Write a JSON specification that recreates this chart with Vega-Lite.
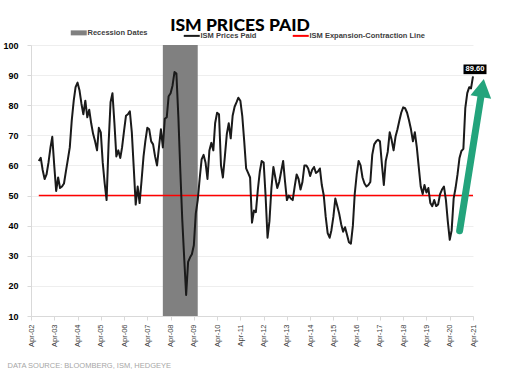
{
  "$schema": "https://vega.github.io/schema/vega-lite/v6.json",
  "width": 442,
  "height": 271,
  "autosize": {"type": "none"},
  "padding": {"left": 31, "top": 45, "right": 39, "bottom": 56},
  "background": "white",
  "title": {"text": "ISM PRICES PAID", "font": "Lato", "fontWeight": 900, "fontSize": 17.5, "color": "#000000", "anchor": "middle", "frame": "group", "dx": -12, "offset": -5},
  "config": {
    "view": {"stroke": null},
    "axis": {"domainColor": "#d9d9d9", "tickColor": "#d9d9d9", "gridColor": "#eeeeee", "tickSize": 4},
    "axisY": {"tickCount": 10, "grid": true, "labelFont": "Liberation Sans", "labelFontSize": 9, "labelFontWeight": "bold", "labelColor": "#000000", "labelPadding": 9, "labelOverlap": false},
    "legend": {"labelFont": "Liberation Sans", "labelFontSize": 7.5, "labelColor": "#404040", "labelFontWeight": "bold"}
  },
  "datasets": {
    "ism": [
      {"date": "2002-08-01", "v": 61.5}, {"date": "2002-09-01", "v": 62.5}, {"date": "2002-10-01", "v": 58.5}, {"date": "2002-11-01", "v": 55.5}, {"date": "2002-12-01", "v": 57},
      {"date": "2003-01-01", "v": 61}, {"date": "2003-02-01", "v": 66}, {"date": "2003-03-01", "v": 69.5}, {"date": "2003-04-01", "v": 60}, {"date": "2003-05-01", "v": 51.5}, {"date": "2003-06-01", "v": 56}, {"date": "2003-07-01", "v": 52.5}, {"date": "2003-08-01", "v": 53}, {"date": "2003-09-01", "v": 54}, {"date": "2003-10-01", "v": 58}, {"date": "2003-11-01", "v": 62}, {"date": "2003-12-01", "v": 66},
      {"date": "2004-01-01", "v": 75}, {"date": "2004-02-01", "v": 81.5}, {"date": "2004-03-01", "v": 86}, {"date": "2004-04-01", "v": 87.5}, {"date": "2004-05-01", "v": 85}, {"date": "2004-06-01", "v": 80.5}, {"date": "2004-07-01", "v": 77}, {"date": "2004-08-01", "v": 81.5}, {"date": "2004-09-01", "v": 76}, {"date": "2004-10-01", "v": 78.5}, {"date": "2004-11-01", "v": 74}, {"date": "2004-12-01", "v": 70.5},
      {"date": "2005-01-01", "v": 68}, {"date": "2005-02-01", "v": 65}, {"date": "2005-03-01", "v": 72.5}, {"date": "2005-04-01", "v": 71}, {"date": "2005-05-01", "v": 61}, {"date": "2005-06-01", "v": 54}, {"date": "2005-07-01", "v": 48.5}, {"date": "2005-08-01", "v": 67}, {"date": "2005-09-01", "v": 81}, {"date": "2005-10-01", "v": 84}, {"date": "2005-11-01", "v": 74}, {"date": "2005-12-01", "v": 63},
      {"date": "2006-01-01", "v": 65}, {"date": "2006-02-01", "v": 62.5}, {"date": "2006-03-01", "v": 66}, {"date": "2006-04-01", "v": 71.5}, {"date": "2006-05-01", "v": 76.5}, {"date": "2006-06-01", "v": 77}, {"date": "2006-07-01", "v": 78}, {"date": "2006-08-01", "v": 71}, {"date": "2006-09-01", "v": 59}, {"date": "2006-10-01", "v": 47}, {"date": "2006-11-01", "v": 53}, {"date": "2006-12-01", "v": 47.5},
      {"date": "2007-01-01", "v": 55}, {"date": "2007-02-01", "v": 63}, {"date": "2007-03-01", "v": 68}, {"date": "2007-04-01", "v": 72.5}, {"date": "2007-05-01", "v": 72}, {"date": "2007-06-01", "v": 68}, {"date": "2007-07-01", "v": 67}, {"date": "2007-08-01", "v": 63}, {"date": "2007-09-01", "v": 60}, {"date": "2007-10-01", "v": 66}, {"date": "2007-11-01", "v": 72}, {"date": "2007-12-01", "v": 66},
      {"date": "2008-01-01", "v": 75.5}, {"date": "2008-02-01", "v": 76}, {"date": "2008-03-01", "v": 83}, {"date": "2008-04-01", "v": 84}, {"date": "2008-05-01", "v": 86.5}, {"date": "2008-06-01", "v": 91}, {"date": "2008-07-01", "v": 90.5}, {"date": "2008-08-01", "v": 76}, {"date": "2008-09-01", "v": 58}, {"date": "2008-10-01", "v": 42}, {"date": "2008-11-01", "v": 29}, {"date": "2008-12-01", "v": 17},
      {"date": "2009-01-01", "v": 28}, {"date": "2009-02-01", "v": 29.5}, {"date": "2009-03-01", "v": 30.5}, {"date": "2009-04-01", "v": 33.5}, {"date": "2009-05-01", "v": 44}, {"date": "2009-06-01", "v": 48.5}, {"date": "2009-07-01", "v": 55.5}, {"date": "2009-08-01", "v": 62}, {"date": "2009-09-01", "v": 63.5}, {"date": "2009-10-01", "v": 61}, {"date": "2009-11-01", "v": 55.5}, {"date": "2009-12-01", "v": 65},
      {"date": "2010-01-01", "v": 67.5}, {"date": "2010-02-01", "v": 65}, {"date": "2010-03-01", "v": 74}, {"date": "2010-04-01", "v": 77.5}, {"date": "2010-05-01", "v": 77}, {"date": "2010-06-01", "v": 60}, {"date": "2010-07-01", "v": 56}, {"date": "2010-08-01", "v": 63}, {"date": "2010-09-01", "v": 70.5}, {"date": "2010-10-01", "v": 74}, {"date": "2010-11-01", "v": 69}, {"date": "2010-12-01", "v": 76.5},
      {"date": "2011-01-01", "v": 79.5}, {"date": "2011-02-01", "v": 81}, {"date": "2011-03-01", "v": 82.5}, {"date": "2011-04-01", "v": 81.5}, {"date": "2011-05-01", "v": 76.5}, {"date": "2011-06-01", "v": 68}, {"date": "2011-07-01", "v": 59}, {"date": "2011-08-01", "v": 57.5}, {"date": "2011-09-01", "v": 56}, {"date": "2011-10-01", "v": 41}, {"date": "2011-11-01", "v": 45}, {"date": "2011-12-01", "v": 44.5},
      {"date": "2012-01-01", "v": 52}, {"date": "2012-02-01", "v": 58}, {"date": "2012-03-01", "v": 61.5}, {"date": "2012-04-01", "v": 61}, {"date": "2012-05-01", "v": 50}, {"date": "2012-06-01", "v": 36}, {"date": "2012-07-01", "v": 41.5}, {"date": "2012-08-01", "v": 52.5}, {"date": "2012-09-01", "v": 59.5}, {"date": "2012-10-01", "v": 56}, {"date": "2012-11-01", "v": 52.5}, {"date": "2012-12-01", "v": 54.5},
      {"date": "2013-01-01", "v": 58}, {"date": "2013-02-01", "v": 61.5}, {"date": "2013-03-01", "v": 55}, {"date": "2013-04-01", "v": 48.5}, {"date": "2013-05-01", "v": 50}, {"date": "2013-06-01", "v": 49}, {"date": "2013-07-01", "v": 48.5}, {"date": "2013-08-01", "v": 53}, {"date": "2013-09-01", "v": 57}, {"date": "2013-10-01", "v": 55.5}, {"date": "2013-11-01", "v": 52}, {"date": "2013-12-01", "v": 54.5},
      {"date": "2014-01-01", "v": 60}, {"date": "2014-02-01", "v": 60}, {"date": "2014-03-01", "v": 59}, {"date": "2014-04-01", "v": 56.5}, {"date": "2014-05-01", "v": 58.5}, {"date": "2014-06-01", "v": 59.5}, {"date": "2014-07-01", "v": 57.5}, {"date": "2014-08-01", "v": 58}, {"date": "2014-09-01", "v": 59}, {"date": "2014-10-01", "v": 53.5}, {"date": "2014-11-01", "v": 50}, {"date": "2014-12-01", "v": 43},
      {"date": "2015-01-01", "v": 37.5}, {"date": "2015-02-01", "v": 36}, {"date": "2015-03-01", "v": 38.5}, {"date": "2015-04-01", "v": 43}, {"date": "2015-05-01", "v": 49}, {"date": "2015-06-01", "v": 46.5}, {"date": "2015-07-01", "v": 44}, {"date": "2015-08-01", "v": 40.5}, {"date": "2015-09-01", "v": 38}, {"date": "2015-10-01", "v": 39.5}, {"date": "2015-11-01", "v": 37}, {"date": "2015-12-01", "v": 34.5},
      {"date": "2016-01-01", "v": 34}, {"date": "2016-02-01", "v": 40}, {"date": "2016-03-01", "v": 50.5}, {"date": "2016-04-01", "v": 57}, {"date": "2016-05-01", "v": 61.5}, {"date": "2016-06-01", "v": 60}, {"date": "2016-07-01", "v": 56}, {"date": "2016-08-01", "v": 54}, {"date": "2016-09-01", "v": 53}, {"date": "2016-10-01", "v": 53.5}, {"date": "2016-11-01", "v": 54.5}, {"date": "2016-12-01", "v": 63.5},
      {"date": "2017-01-01", "v": 67}, {"date": "2017-02-01", "v": 68}, {"date": "2017-03-01", "v": 68.5}, {"date": "2017-04-01", "v": 68}, {"date": "2017-05-01", "v": 60.5}, {"date": "2017-06-01", "v": 53.5}, {"date": "2017-07-01", "v": 61.5}, {"date": "2017-08-01", "v": 64.5}, {"date": "2017-09-01", "v": 71}, {"date": "2017-10-01", "v": 68.5}, {"date": "2017-11-01", "v": 65}, {"date": "2017-12-01", "v": 69.5},
      {"date": "2018-01-01", "v": 72}, {"date": "2018-02-01", "v": 75}, {"date": "2018-03-01", "v": 77.5}, {"date": "2018-04-01", "v": 79.3}, {"date": "2018-05-01", "v": 79}, {"date": "2018-06-01", "v": 77.5}, {"date": "2018-07-01", "v": 75}, {"date": "2018-08-01", "v": 72}, {"date": "2018-09-01", "v": 68}, {"date": "2018-10-01", "v": 71}, {"date": "2018-11-01", "v": 66}, {"date": "2018-12-01", "v": 59.5},
      {"date": "2019-01-01", "v": 53}, {"date": "2019-02-01", "v": 50.5}, {"date": "2019-03-01", "v": 53.5}, {"date": "2019-04-01", "v": 51}, {"date": "2019-05-01", "v": 52.5}, {"date": "2019-06-01", "v": 47.5}, {"date": "2019-07-01", "v": 46.5}, {"date": "2019-08-01", "v": 48.5}, {"date": "2019-09-01", "v": 46.5}, {"date": "2019-10-01", "v": 47}, {"date": "2019-11-01", "v": 50.5}, {"date": "2019-12-01", "v": 52},
      {"date": "2020-01-01", "v": 53}, {"date": "2020-02-01", "v": 48.5}, {"date": "2020-03-01", "v": 41.5}, {"date": "2020-04-01", "v": 35.3}, {"date": "2020-05-01", "v": 38.5}, {"date": "2020-06-01", "v": 49}, {"date": "2020-07-01", "v": 52.5}, {"date": "2020-08-01", "v": 57}, {"date": "2020-09-01", "v": 62.5}, {"date": "2020-10-01", "v": 64.8}, {"date": "2020-11-01", "v": 65.5}, {"date": "2020-12-01", "v": 79},
      {"date": "2021-01-01", "v": 84}, {"date": "2021-02-01", "v": 86}, {"date": "2021-03-01", "v": 85.6}, {"date": "2021-04-01", "v": 89.6}
    ],
    "recession": [{"date": "2007-12-01", "date2": "2009-06-01"}],
    "redline": [{"date": "2002-08-01", "v": 50}, {"date": "2021-04-01", "v": 50}],
    "arrow": [{"date": "2020-09-03", "v": 38.3}, {"date": "2021-08-25", "v": 85.7}],
    "arrowhead": [{"date": "2021-08-25", "v": 85.7}],
    "label": [{"date": "2021-04-01", "v": 89.6, "text": "89.60"}]
  },
  "encoding": {
    "x": {
      "field": "date", "type": "temporal",
      "scale": {"domain": [{"year": 2002, "month": 4, "date": 1}, {"year": 2021, "month": 4, "date": 1}]},
      "axis": {
        "values": [
          {"year": 2002, "month": 4, "date": 1}, {"year": 2003, "month": 4, "date": 1}, {"year": 2004, "month": 4, "date": 1}, {"year": 2005, "month": 4, "date": 1}, {"year": 2006, "month": 4, "date": 1},
          {"year": 2007, "month": 4, "date": 1}, {"year": 2008, "month": 4, "date": 1}, {"year": 2009, "month": 4, "date": 1}, {"year": 2010, "month": 4, "date": 1}, {"year": 2011, "month": 4, "date": 1},
          {"year": 2012, "month": 4, "date": 1}, {"year": 2013, "month": 4, "date": 1}, {"year": 2014, "month": 4, "date": 1}, {"year": 2015, "month": 4, "date": 1}, {"year": 2016, "month": 4, "date": 1},
          {"year": 2017, "month": 4, "date": 1}, {"year": 2018, "month": 4, "date": 1}, {"year": 2019, "month": 4, "date": 1}, {"year": 2020, "month": 4, "date": 1}, {"year": 2021, "month": 4, "date": 1}
        ],
        "format": "%b-%y", "labelAngle": -90, "labelFont": "Liberation Sans", "labelFontSize": 7.5, "labelColor": "#404040", "labelPadding": 4, "grid": false,
        "labelOverlap": false, "labelBound": false, "labelFlush": false,
        "title": "DATA SOURCE: BLOOMBERG, ISM, HEDGEYE", "titleFont": "Liberation Sans", "titleFontSize": 7.5, "titleFontWeight": "normal", "titleColor": "#a6a6a6",
        "titleAnchor": "start", "titleAlign": "left", "titleBaseline": "alphabetic", "titleX": -24, "titleY": 51
      }
    }
  },
  "layer": [
    {
      "data": {"name": "recession"},
      "mark": {"type": "rect", "opacity": 1},
      "encoding": {
        "x2": {"field": "date2"},
        "color": {"datum": "Recession Dates", "type": "nominal"}
      }
    },
    {
      "data": {"name": "redline"},
      "mark": {"type": "line", "strokeWidth": 1.5},
      "encoding": {
        "y": {"field": "v", "type": "quantitative", "title": null, "scale": {"domain": [10, 100], "nice": false, "zero": false}},
        "color": {"datum": "ISM Expansion-Contraction Line", "type": "nominal"}
      }
    },
    {
      "data": {"name": "ism"},
      "mark": {"type": "line", "strokeWidth": 2, "strokeJoin": "round"},
      "encoding": {
        "y": {"field": "v", "type": "quantitative", "title": null, "scale": {"domain": [10, 100], "nice": false, "zero": false}},
        "color": {
          "datum": "ISM Prices Paid", "type": "nominal",
          "scale": {"domain": ["Recession Dates", "ISM Prices Paid", "ISM Expansion-Contraction Line"], "range": ["#808080", "#1a1a1a", "#ff0000"]},
          "legend": {
            "title": null, "orient": "none", "direction": "horizontal", "legendX": 44, "legendY": -16,
            "symbolType": "stroke", "symbolSize": 256, "labelOffset": 5, "columnPadding": 31,
            "encode": {"symbols": {"update": {"strokeWidth": {"signal": "datum.value === 'Recession Dates' ? 5 : 2"}}}}
          }
        }
      }
    },
    {
      "data": {"name": "arrow"},
      "mark": {"type": "line", "strokeWidth": 7, "strokeCap": "round", "color": "#23a47c"},
      "encoding": {
        "y": {"field": "v", "type": "quantitative", "title": null, "scale": {"domain": [10, 100], "nice": false, "zero": false}}
      }
    },
    {
      "data": {"name": "arrowhead"},
      "mark": {"type": "point", "shape": "triangle-up", "size": 440, "angle": 9.5, "filled": true, "color": "#23a47c", "opacity": 1},
      "encoding": {
        "y": {"field": "v", "type": "quantitative", "title": null, "scale": {"domain": [10, 100], "nice": false, "zero": false}}
      }
    },
    {
      "data": {"name": "label"},
      "mark": {"type": "point", "shape": "M-1,-0.42H1V0.42H-1Z", "size": 529, "filled": true, "color": "#000000", "opacity": 1, "xOffset": 2, "yOffset": -7},
      "encoding": {
        "y": {"field": "v", "type": "quantitative", "title": null, "scale": {"domain": [10, 100], "nice": false, "zero": false}}
      }
    },
    {
      "data": {"name": "label"},
      "mark": {"type": "text", "color": "#ffffff", "font": "Liberation Sans", "fontSize": 7.5, "fontWeight": "bold", "baseline": "middle", "align": "center", "dx": 2, "dy": -7},
      "encoding": {
        "y": {"field": "v", "type": "quantitative", "title": null, "scale": {"domain": [10, 100], "nice": false, "zero": false}},
        "text": {"field": "text"}
      }
    }
  ]
}
